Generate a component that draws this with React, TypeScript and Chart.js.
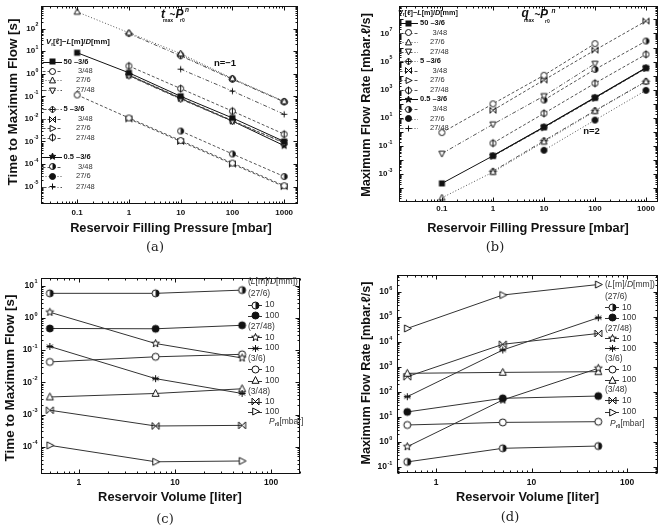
import React, { useEffect, useRef } from 'react';
import { Chart, registerables } from 'chart.js';

Chart.register(...registerables);

/* ---------- measured series ---------- */
const PRESSURE_MBAR = [0.1, 1, 10, 100, 1000];
const VOLUME_C_L = [0.5, 6.3, 50];
const VOLUME_D_L = [0.5, 5, 50];

// (a) time to maximum flow [s] vs reservoir filling pressure
const tmax_50_3_6 = [8.5, 1.1, 0.1, 0.011, 0.001];
const tmax_50_3_48 = [0.115, 0.011, 0.0011, 1.1e-4, 1.1e-5];
const tmax_50_27_6 = [550, 65, 7.8, 0.62, 0.06];
const tmax_50_27_48 = [null, 0.8, 0.075, 0.0078, 9e-4];
const tmax_5_3_6 = [null, 60, 6.2, 0.57, 0.056];
const tmax_5_3_48 = [null, 0.01, 0.001, 1e-4, 1e-5];
const tmax_5_27_6 = [null, 0.9, 0.085, 0.0085, 8.5e-4];
const tmax_5_27_48 = [null, 2.2, 0.22, 0.022, 0.0021];
const tmax_05_3_6 = [null, 0.85, 0.08, 0.008, 6.5e-4];
const tmax_05_3_48 = [null, null, 0.0029, 2.8e-4, 2.8e-5];
const tmax_05_27_6 = [null, null, 6.7, 0.59, 0.058];
const tmax_05_27_48 = [null, null, 1.6, 0.17, 0.016];

// (b) maximum flow rate [mbar.l/s] vs reservoir filling pressure
const qmax_50_3_6 = [2.2e-4, 0.02, 2.2, 270, 3.5e4];
const qmax_50_3_48 = [0.9, 100, 1.07e4, 1.9e6, null];
const qmax_50_27_6 = [2.1e-5, 0.0014, 0.2, 30, 3800];
const qmax_50_27_48 = [0.029, 3.5, 360, 7.2e4, null];
const qmax_5_3_6 = [null, 0.0016, 0.24, 33, 4000];
const qmax_5_3_48 = [null, 35, 4900, 6.6e5, 7.7e7];
const qmax_5_27_6 = [null, 0.019, 2.0, 250, 3.3e4];
const qmax_5_27_48 = [null, 0.16, 21, 2900, 3.3e5];
const qmax_05_3_6 = [null, 0.021, 2.3, 290, 3.7e4];
const qmax_05_3_48 = [null, null, 186, 2.8e4, 2.9e6];
const qmax_05_27_6 = [null, null, 0.05, 7, 910];
const qmax_05_27_48 = [null, null, null, null, null];

// (c) time to maximum flow [s] vs reservoir volume, per line (L/D) and P_r0
const tV_27_6_p10 = [5.8, 5.8, 7.3];
const tV_27_6_p100 = [0.47, 0.46, 0.59];
const tV_27_48_p10 = [1.5, 0.16, 0.057];
const tV_27_48_p100 = [0.13, 0.013, 0.0045];
const tV_3_6_p10 = [0.043, 0.062, 0.074];
const tV_3_6_p100 = [0.0035, 0.0045, 0.0063];
const tV_3_48_p10 = [0.00136, 4.4e-4, 4.6e-4];
const tV_3_48_p100 = [1.1e-4, 3.4e-5, 3.6e-5];

// (d) maximum flow rate [mbar.l/s] vs reservoir volume
const qV_27_6_p10 = [0.16, 0.56, 0.69];
const qV_27_6_p100 = [16, 56, 69];
const qV_27_48_p10 = [0.65, 48, 890];
const qV_27_48_p100 = [65, 4800, 9.4e4];
const qV_3_6_p10 = [4.8, 6.1, 6.5];
const qV_3_6_p100 = [560, 610, 650];
const qV_3_48_p10 = [410, 8100, 2.2e4];
const qV_3_48_p100 = [3.5e4, 7.6e5, 2e6];

// tick labels
const AB_X_TICKS = [0.1, 1, 10, 100, 1000];
const AB_X_TEXT = ['0.1', '1', '10', '100', '1000'];
const CD_X_TICKS = [1, 10, 100];
const CD_X_TEXT = ['1', '10', '100'];
const A_Y_EXPS = [-5, -4, -3, -2, -1, 0, 1, 2];
const B_Y_EXPS = [-3, -1, 1, 3, 5, 7];
const C_Y_EXPS = [-4, -3, -2, -1, 0, 1];
const D_Y_EXPS = [-1, 0, 1, 2, 3, 4, 5, 6];

/* ---------- series styling ---------- */
const INK = '#111';
const SANS = '"Liberation Sans", Arial, Helvetica, sans-serif';
const SERIF = '"DejaVu Serif", "Liberation Serif", serif';

const GROUP_ROWS = [
  { group: '50', sub: '3/6', mark: 'square', dash: [] as number[], color: '#111' },
  { sub: '3/48', mark: 'circle', dash: [3, 2], color: '#555' },
  { sub: '27/6', mark: 'triUp', dash: [1, 2], color: '#555' },
  { sub: '27/48', mark: 'triDown', dash: [4, 2, 1, 2], color: '#555' },
  { group: '5', sub: '3/6', mark: 'diamond', dash: [4, 2, 1, 2], color: '#555' },
  { sub: '3/48', mark: 'bowtie', dash: [3, 2], color: '#555' },
  { sub: '27/6', mark: 'triRight', dash: [3, 2], color: '#555' },
  { sub: '27/48', mark: 'phi', dash: [3, 2], color: '#555' },
  { group: '0.5', sub: '3/6', mark: 'starFill', dash: [] as number[], color: '#111' },
  { sub: '3/48', mark: 'half', dash: [3, 2], color: '#555' },
  { sub: '27/6', mark: 'disc', dash: [1, 2], color: '#555' },
  { sub: '27/48', mark: 'plus', dash: [4, 2, 1, 2], color: '#555' },
];
const TMAX_ROWS = [
  tmax_50_3_6, tmax_50_3_48, tmax_50_27_6, tmax_50_27_48,
  tmax_5_3_6, tmax_5_3_48, tmax_5_27_6, tmax_5_27_48,
  tmax_05_3_6, tmax_05_3_48, tmax_05_27_6, tmax_05_27_48,
];
const QMAX_ROWS = [
  qmax_50_3_6, qmax_50_3_48, qmax_50_27_6, qmax_50_27_48,
  qmax_5_3_6, qmax_5_3_48, qmax_5_27_6, qmax_5_27_48,
  qmax_05_3_6, qmax_05_3_48, qmax_05_27_6, qmax_05_27_48,
];

const VOL_ROWS = [
  { head: '(27/6)', p: '10', mark: 'half' },
  { p: '100', mark: 'disc' },
  { head: '(27/48)', p: '10', mark: 'starOpen' },
  { p: '100', mark: 'aster' },
  { head: '(3/6)', p: '10', mark: 'circle' },
  { p: '100', mark: 'triUp' },
  { head: '(3/48)', p: '10', mark: 'bowtie' },
  { p: '100', mark: 'triRight' },
];
const TV_ROWS = [tV_27_6_p10, tV_27_6_p100, tV_27_48_p10, tV_27_48_p100, tV_3_6_p10, tV_3_6_p100, tV_3_48_p10, tV_3_48_p100];
const QV_ROWS = [qV_27_6_p10, qV_27_6_p100, qV_27_48_p10, qV_27_48_p100, qV_3_6_p10, qV_3_6_p100, qV_3_48_p10, qV_3_48_p100];

/* ---------- marker glyphs ---------- */
function makeMarker(kind: string, d: number): HTMLCanvasElement {
  const s = 2 * Math.ceil(d / 2) + 5;
  const c = document.createElement('canvas');
  c.width = s;
  c.height = s;
  const g = c.getContext('2d')!;
  g.lineWidth = 1;
  g.strokeStyle = INK;
  g.fillStyle = '#fff';
  const m = s / 2;
  const r = d / 2;
  const path = (pts: number[][]) => {
    g.beginPath();
    pts.forEach(([px, py], i) => (i ? g.lineTo(m + px, m + py) : g.moveTo(m + px, m + py)));
    g.closePath();
  };
  const seg = (x0: number, y0: number, x1: number, y1: number) => {
    g.beginPath();
    g.moveTo(m + x0, m + y0);
    g.lineTo(m + x1, m + y1);
    g.stroke();
  };
  const circle = () => {
    g.beginPath();
    g.arc(m, m, r, 0, Math.PI * 2);
  };
  const star = (filled: boolean) => {
    const pts: number[][] = [];
    for (let i = 0; i < 10; i++) {
      const rr = i % 2 === 0 ? r * 1.15 : r * 0.5;
      const a = -Math.PI / 2 + (i * Math.PI) / 5;
      pts.push([Math.cos(a) * rr, Math.sin(a) * rr]);
    }
    path(pts);
    g.fillStyle = filled ? INK : '#fff';
    g.fill();
    g.stroke();
  };
  switch (kind) {
    case 'square':
      g.fillStyle = INK;
      g.fillRect(m - r, m - r, d, d);
      break;
    case 'circle':
      circle();
      g.fill();
      g.stroke();
      break;
    case 'disc':
      circle();
      g.fillStyle = INK;
      g.fill();
      g.stroke();
      break;
    case 'half':
      circle();
      g.fill();
      g.stroke();
      g.beginPath();
      g.arc(m, m, r, -Math.PI / 2, Math.PI / 2);
      g.closePath();
      g.fillStyle = INK;
      g.fill();
      break;
    case 'phi':
      circle();
      g.fill();
      g.stroke();
      seg(0, -r - 1, 0, r + 1);
      break;
    case 'triUp':
      path([[0, -r - 0.5], [r, r * 0.8], [-r, r * 0.8]]);
      g.fill();
      g.stroke();
      break;
    case 'triDown':
      path([[0, r + 0.5], [r, -r * 0.8], [-r, -r * 0.8]]);
      g.fill();
      g.stroke();
      break;
    case 'triRight':
      path([[r + 0.5, 0], [-r * 0.8, -r], [-r * 0.8, r]]);
      g.fill();
      g.stroke();
      break;
    case 'diamond':
      path([[0, -r - 0.5], [r + 0.5, 0], [0, r + 0.5], [-r - 0.5, 0]]);
      g.fill();
      g.stroke();
      seg(0, -r, 0, r);
      seg(-r, 0, r, 0);
      break;
    case 'bowtie':
      seg(-r, -r, r, r);
      seg(-r, r, r, -r);
      seg(-r, -r, -r, r);
      seg(r, -r, r, r);
      break;
    case 'starFill':
      star(true);
      break;
    case 'starOpen':
      star(false);
      break;
    case 'plus':
      seg(-r, 0, r, 0);
      seg(0, -r, 0, r);
      break;
    case 'aster':
      [90, 30, 150].forEach((deg) => {
        const a = (deg * Math.PI) / 180;
        seg(Math.cos(a) * r, Math.sin(a) * r, -Math.cos(a) * r, -Math.sin(a) * r);
      });
      seg(-r, 0, r, 0);
      break;
  }
  return c;
}

function markerSet(d: number): Record<string, HTMLCanvasElement> {
  const kinds = ['square', 'circle', 'disc', 'half', 'phi', 'triUp', 'triDown', 'triRight', 'diamond', 'bowtie', 'starFill', 'starOpen', 'plus', 'aster'];
  const out: Record<string, HTMLCanvasElement> = {};
  kinds.forEach((k) => (out[k] = makeMarker(k, d)));
  return out;
}

/* ---------- text helpers ---------- */
type Part = { s: string; size: number; w?: string; dy?: number };

function rich(ctx: CanvasRenderingContext2D, parts: Part[], x: number, y: number, opts: { fit?: number; align?: string; color?: string } = {}) {
  const font = (p: Part, k: number) => `${p.w || 'normal'} ${p.size * k}px ${SANS}`;
  let total = 0;
  for (const p of parts) {
    ctx.font = font(p, 1);
    total += ctx.measureText(p.s).width;
  }
  const k = opts.fit ? opts.fit / total : 1;
  let cx = x;
  if (opts.align === 'center') cx = x - (total * k) / 2;
  else if (opts.align === 'right') cx = x - total * k;
  ctx.fillStyle = opts.color || INK;
  ctx.textAlign = 'left';
  ctx.textBaseline = 'middle';
  for (const p of parts) {
    ctx.font = font(p, k);
    ctx.fillText(p.s, cx, y + (p.dy || 0) * k);
    cx += ctx.measureText(p.s).width;
  }
}

function fitted(ctx: CanvasRenderingContext2D, text: string, cx: number, cy: number, width: number, rotate: boolean) {
  ctx.save();
  ctx.font = `bold 20px ${SANS}`;
  const w = ctx.measureText(text).width;
  ctx.font = `bold ${(20 * width) / w}px ${SANS}`;
  ctx.fillStyle = INK;
  ctx.textAlign = 'center';
  ctx.textBaseline = 'middle';
  ctx.translate(cx, cy);
  if (rotate) ctx.rotate(-Math.PI / 2);
  ctx.fillText(text, 0, 0);
  ctx.restore();
}

function logTicks(min: number, max: number) {
  const out: { v: number; major: boolean }[] = [];
  const e0 = Math.floor(Math.log10(min));
  const e1 = Math.ceil(Math.log10(max));
  for (let e = e0; e <= e1; e++) {
    for (let k = 1; k <= 9; k++) {
      const v = k * Math.pow(10, e);
      if (v >= min * 0.9999 && v <= max * 1.0001) out.push({ v, major: k === 1 });
    }
  }
  return out;
}

type Frame = {
  xTicks: number[];
  xText: string[];
  xDy: number;
  yExps: number[];
  yGap: number;
  tick: number;
  xTitle: string;
  xT: number[];
  yTitle: string;
  yT: number[];
  caption: string;
  cap: number[];
};

function drawFrame(chart: any, f: Frame) {
  const ctx: CanvasRenderingContext2D = chart.ctx;
  const a = chart.chartArea;
  const xs = chart.scales.x;
  const ys = chart.scales.y;
  ctx.save();
  ctx.strokeStyle = INK;
  ctx.lineWidth = 1;
  ctx.setLineDash([]);
  const L = Math.round(a.left) + 0.5;
  const R = Math.round(a.right) - 0.5;
  const T = Math.round(a.top) + 0.5;
  const B = Math.round(a.bottom) - 0.5;
  ctx.strokeRect(L, T, R - L, B - T);
  ctx.beginPath();
  for (const t of logTicks(xs.min, xs.max)) {
    const p = Math.round(xs.getPixelForValue(t.v)) + 0.5;
    const n = t.major ? 4 : 2;
    ctx.moveTo(p, B);
    ctx.lineTo(p, B - n);
    ctx.moveTo(p, T);
    ctx.lineTo(p, T + n);
  }
  for (const t of logTicks(ys.min, ys.max)) {
    const p = Math.round(ys.getPixelForValue(t.v)) + 0.5;
    const n = t.major ? 4 : 2;
    ctx.moveTo(L, p);
    ctx.lineTo(L + n, p);
    ctx.moveTo(R, p);
    ctx.lineTo(R - n, p);
  }
  ctx.stroke();

  ctx.fillStyle = INK;
  ctx.textBaseline = 'middle';
  ctx.textAlign = 'center';
  ctx.font = `bold ${f.tick}px ${SANS}`;
  f.xTicks.forEach((v, i) => ctx.fillText(f.xText[i], xs.getPixelForValue(v), a.bottom + f.xDy));

  const supSize = f.tick * 0.65;
  for (const e of f.yExps) {
    const y = ys.getPixelForValue(Math.pow(10, e));
    const sup = String(e);
    ctx.font = `bold ${f.tick}px ${SANS}`;
    const wb = ctx.measureText('10').width;
    ctx.font = `bold ${supSize}px ${SANS}`;
    const ws = ctx.measureText(sup).width;
    const xr = a.left - f.yGap;
    ctx.textAlign = 'left';
    ctx.font = `bold ${f.tick}px ${SANS}`;
    ctx.fillText('10', xr - ws - wb - 0.5, y);
    ctx.font = `bold ${supSize}px ${SANS}`;
    ctx.fillText(sup, xr - ws, y - f.tick * 0.45);
  }

  fitted(ctx, f.xTitle, f.xT[0], f.xT[1], f.xT[2], false);
  fitted(ctx, f.yTitle, f.yT[0], f.yT[1], f.yT[2], true);

  ctx.font = `13px ${SERIF}`;
  ctx.fillStyle = '#222';
  ctx.textAlign = 'center';
  ctx.fillText(f.caption, f.cap[0], f.cap[1]);
  ctx.restore();
}

function legendLine(ctx: CanvasRenderingContext2D, x0: number, x1: number, y: number, dash: number[], color: string) {
  ctx.save();
  ctx.strokeStyle = color;
  ctx.lineWidth = 1;
  ctx.setLineDash(dash);
  ctx.beginPath();
  const yy = Math.round(y) + 0.5;
  ctx.moveTo(x0, yy);
  ctx.lineTo(x1, yy);
  ctx.stroke();
  ctx.restore();
}

function putMarker(ctx: CanvasRenderingContext2D, img: HTMLCanvasElement, x: number, y: number) {
  ctx.drawImage(img, Math.round(x - img.width / 2), Math.round(y - img.height / 2));
}

type GroupLegend = { ys: number[]; x0: number; x1: number; gx: number; sx: number; sx348: number; head: number[]; font: number; mk: Record<string, HTMLCanvasElement> };

function drawGroupLegend(ctx: CanvasRenderingContext2D, G: GroupLegend) {
  const fs = G.font;
  rich(
    ctx,
    [
      { s: 'V', size: 8, w: 'bold italic' },
      { s: 'r', size: 5, w: 'bold', dy: 2 },
      { s: '[ℓ]−', size: 8, w: 'bold' },
      { s: 'L', size: 8, w: 'bold italic' },
      { s: '[m]/', size: 8, w: 'bold' },
      { s: 'D', size: 8, w: 'bold italic' },
      { s: '[mm]', size: 8, w: 'bold' },
    ],
    G.head[0],
    G.head[1],
    { fit: G.head[2] }
  );
  GROUP_ROWS.forEach((row, i) => {
    const y = G.ys[i];
    legendLine(ctx, G.x0, G.x1, y, row.dash, row.color);
    putMarker(ctx, G.mk[row.mark], (G.x0 + G.x1) / 2, y);
    if (row.group) rich(ctx, [{ s: `${row.group} –3/6`, size: fs, w: 'bold' }], G.gx, y);
    else rich(ctx, [{ s: row.sub, size: fs }], row.sub === '3/48' ? G.sx348 : G.sx, y, { color: '#333' });
  });
}

type VolLegend = { ys: number[]; x0: number; x1: number; tx: number; px: number; mk: Record<string, HTMLCanvasElement> };

function drawVolLegend(ctx: CanvasRenderingContext2D, V: VolLegend) {
  const color = '#333';
  const fs = 8.5;
  rich(
    ctx,
    [
      { s: '(', size: fs },
      { s: 'L', size: fs, w: 'italic' },
      { s: '[m]/', size: fs },
      { s: 'D', size: fs, w: 'italic' },
      { s: '[mm])', size: fs },
    ],
    V.x0,
    V.ys[0],
    { fit: 50, color }
  );
  let k = 1;
  VOL_ROWS.forEach((row) => {
    if (row.head) {
      rich(ctx, [{ s: row.head, size: fs }], V.x0, V.ys[k], { color });
      k++;
    }
    const y = V.ys[k];
    legendLine(ctx, V.x0, V.x1, y, [], '#333');
    putMarker(ctx, V.mk[row.mark], (V.x0 + V.x1) / 2, y);
    rich(ctx, [{ s: row.p, size: fs }], V.tx, y, { color });
    k++;
  });
  rich(
    ctx,
    [
      { s: 'P', size: fs, w: 'italic' },
      { s: 'r0', size: 5, w: 'bold', dy: 2.5 },
      { s: '[mbar]', size: fs },
    ],
    V.px,
    V.ys[k],
    { color }
  );
}

/* ---------- chart construction ---------- */
type Spec = {
  xs: number[];
  rows: (number | null)[][];
  styles: { mark: string; dash: number[]; color: string }[];
  markSize: number;
  padding: { left: number; top: number; right: number; bottom: number };
  xr: number[];
  yr: number[];
  overlay: (chart: any, mk: Record<string, HTMLCanvasElement>) => void;
};

function buildConfig(spec: Spec): any {
  const mk = markerSet(spec.markSize);
  const datasets = spec.rows.map((vals, i) => {
    const st = spec.styles[i];
    return {
      data: spec.xs
        .map((x, j) => ({ x, y: vals[j] as number }))
        .filter((p) => p.y !== null && p.y !== undefined),
      borderColor: st.color,
      borderWidth: 1,
      borderDash: st.dash,
      pointStyle: mk[st.mark],
      pointRadius: 4,
      pointHoverRadius: 4,
      fill: false,
      tension: 0,
      showLine: true,
    };
  });
  return {
    type: 'line',
    data: { datasets },
    options: {
      responsive: false,
      animation: false,
      devicePixelRatio: 1,
      events: [],
      layout: { padding: spec.padding, autoPadding: false },
      plugins: { legend: { display: false }, tooltip: { enabled: false } },
      scales: {
        x: { type: 'logarithmic', min: spec.xr[0], max: spec.xr[1], display: false },
        y: { type: 'logarithmic', min: spec.yr[0], max: spec.yr[1], display: false },
      },
    },
    plugins: [{ id: 'figureOverlay', afterDraw: (chart: any) => spec.overlay(chart, mk) }],
  };
}

const GROUP_STYLES = GROUP_ROWS.map((r) => ({ mark: r.mark, dash: r.dash, color: r.color }));
const VOL_STYLES = VOL_ROWS.map((r) => ({ mark: r.mark, dash: [] as number[], color: '#333' }));

const specA: Spec = {
  xs: PRESSURE_MBAR,
  rows: TMAX_ROWS,
  styles: GROUP_STYLES,
  markSize: 6,
  padding: { left: 41, top: 6, right: 34, bottom: 61 },
  xr: [0.02, 1850],
  yr: [1.7e-6, 1000],
  overlay: (chart, mk) => {
    const ctx = chart.ctx;
    drawFrame(chart, {
      xTicks: AB_X_TICKS, xText: AB_X_TEXT, xDy: 8.5,
      yExps: A_Y_EXPS, yGap: 2.5, tick: 8,
      xTitle: 'Reservoir Filling Pressure [mbar]', xT: [171, 228, 202],
      yTitle: 'Time to Maximum Flow [s]', yT: [13, 102, 167],
      caption: '(a)', cap: [155, 248],
    });
    drawGroupLegend(ctx, {
      ys: [61.7, 71, 80.3, 90, 109, 119, 128.3, 137.7, 156.7, 166.7, 176, 186.7],
      x0: 42.5, x1: 62, gx: 63.5, sx: 76, sx348: 78, head: [46, 42.3, 64], font: 7.5, mk,
    });
    rich(ctx, [{ s: 't', size: 12, w: 'bold italic' }], 161, 15);
    rich(ctx, [{ s: 'max', size: 5, w: 'bold' }], 163, 21);
    rich(ctx, [{ s: '~', size: 10, w: 'bold' }], 169.5, 15);
    rich(ctx, [{ s: 'P', size: 12, w: 'bold italic' }], 175.5, 15);
    rich(ctx, [{ s: 'r0', size: 5, w: 'bold' }], 180, 21);
    rich(ctx, [{ s: 'n', size: 6.5, w: 'bold italic' }], 185, 10);
    rich(ctx, [{ s: 'n=−1', size: 9.5, w: 'bold' }], 225, 63.3, { align: 'center' });
  },
};

const specB: Spec = {
  xs: PRESSURE_MBAR,
  rows: QMAX_ROWS,
  styles: GROUP_STYLES,
  markSize: 6,
  padding: { left: 67, top: 6, right: 6, bottom: 63 },
  xr: [0.0144, 1720],
  yr: [1.05e-5, 9e8],
  overlay: (chart, mk) => {
    const ctx = chart.ctx;
    drawFrame(chart, {
      xTicks: AB_X_TICKS, xText: AB_X_TEXT, xDy: 7,
      yExps: B_Y_EXPS, yGap: 6.5, tick: 8,
      xTitle: 'Reservoir Filling Pressure [mbar]', xT: [196, 228, 202],
      yTitle: 'Maximum Flow Rate [mbar.ℓ/s]', yT: [35, 105, 184],
      caption: '(b)', cap: [163, 248],
    });
    drawGroupLegend(ctx, {
      ys: [23.3, 32.7, 42.3, 51.7, 61.3, 70.7, 80.3, 90, 99.3, 109, 118.7, 128.3],
      x0: 67.5, x1: 86, gx: 88, sx: 98, sx348: 100.5, head: [66, 13.3, 60], font: 7.5, mk,
    });
    rich(ctx, [{ s: 'q', size: 12, w: 'bold italic' }], 189.5, 14);
    rich(ctx, [{ s: 'max', size: 5, w: 'bold' }], 192, 21);
    rich(ctx, [{ s: '~', size: 10, w: 'bold' }], 202.5, 15);
    rich(ctx, [{ s: 'P', size: 12, w: 'bold italic' }], 208, 15);
    rich(ctx, [{ s: 'r0', size: 5, w: 'bold' }], 213, 21.5);
    rich(ctx, [{ s: 'n', size: 6.5, w: 'bold italic' }], 219.5, 11.5);
    rich(ctx, [{ s: 'n=2', size: 9.5, w: 'bold' }], 259.5, 131.5, { align: 'center' });
  },
};

const specC: Spec = {
  xs: VOLUME_C_L,
  rows: TV_ROWS,
  styles: VOL_STYLES,
  markSize: 7,
  padding: { left: 40.5, top: 13.3, right: 32, bottom: 55.7 },
  xr: [0.4, 200],
  yr: [1.39e-5, 17],
  overlay: (chart, mk) => {
    const ctx = chart.ctx;
    drawFrame(chart, {
      xTicks: CD_X_TICKS, xText: CD_X_TEXT, xDy: 8,
      yExps: C_Y_EXPS, yGap: 3, tick: 8.5,
      xTitle: 'Reservoir Volume [liter]', xT: [170, 232, 144],
      yTitle: 'Time to Maximum Flow [s]', yT: [10, 113, 167],
      caption: '(c)', cap: [165, 255],
    });
    drawVolLegend(ctx, {
      ys: [17, 29, 40, 50.7, 62, 72.3, 83, 94, 104.3, 115.7, 126.7, 136.7, 146.7, 156.7],
      x0: 248, x1: 262, tx: 265, px: 269, mk,
    });
  },
};

const specD: Spec = {
  xs: VOLUME_D_L,
  rows: QV_ROWS,
  styles: VOL_STYLES,
  markSize: 7,
  padding: { left: 65.3, top: 10, right: 6, bottom: 56.7 },
  xr: [0.393, 211],
  yr: [0.056, 4.8e6],
  overlay: (chart, mk) => {
    const ctx = chart.ctx;
    drawFrame(chart, {
      xTicks: CD_X_TICKS, xText: CD_X_TEXT, xDy: 9.7,
      yExps: D_Y_EXPS, yGap: 5, tick: 8.5,
      xTitle: 'Reservoir Volume [liter]', xT: [195.5, 232, 143],
      yTitle: 'Maximum Flow Rate [mbar.ℓ/s]', yT: [35, 108, 183],
      caption: '(d)', cap: [178, 253],
    });
    drawVolLegend(ctx, {
      ys: [20, 31.7, 42.3, 52.7, 63.3, 73.3, 83.3, 93.3, 104, 115, 125, 135.3, 147, 159],
      x0: 273, x1: 287, tx: 290, px: 278, mk,
    });
  },
};

function Panel({ x, y, spec }: { x: number; y: number; spec: Spec }) {
  const ref = useRef<HTMLCanvasElement>(null);
  useEffect(() => {
    const chart = new Chart(ref.current as HTMLCanvasElement, buildConfig(spec));
    return () => chart.destroy();
  }, [spec]);
  return (
    <canvas
      ref={ref}
      width={332}
      height={265}
      style={{ position: 'absolute', left: x, top: y, width: 332, height: 265 }}
    />
  );
}

export default function App() {
  return (
    <div style={{ position: 'absolute', left: 0, top: 0, width: 664, height: 530, background: '#fff', overflow: 'hidden' }}>
      <Panel x={0} y={0} spec={specA} />
      <Panel x={332} y={0} spec={specB} />
      <Panel x={0} y={265} spec={specC} />
      <Panel x={332} y={265} spec={specD} />
    </div>
  );
}
